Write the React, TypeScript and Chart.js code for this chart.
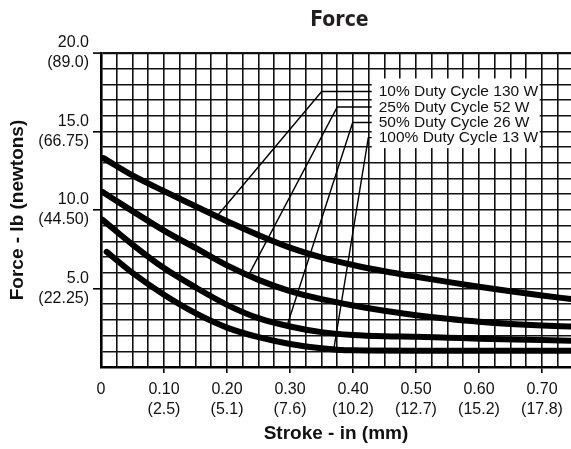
import React, { useEffect, useRef } from 'react';
import { Chart, registerables } from 'chart.js';

Chart.register(...registerables);

// ---- data (stroke in inches, force in lb) ----
const stroke10 = [0.004, 0.05, 0.1, 0.15, 0.2, 0.25, 0.3, 0.35, 0.4, 0.45, 0.5, 0.55, 0.6, 0.65, 0.7, 0.746];
const force10 = [13.3, 12.2, 11.2, 10.24, 9.28, 8.4, 7.6, 6.98, 6.5, 6.1, 5.75, 5.42, 5.11, 4.82, 4.55, 4.33];

const stroke25 = [0.002, 0.05, 0.1, 0.15, 0.2, 0.25, 0.3, 0.35, 0.4, 0.45, 0.5, 0.55, 0.6, 0.65, 0.7, 0.746];
const force25 = [11.16, 9.93, 8.69, 7.58, 6.47, 5.55, 4.83, 4.32, 3.92, 3.58, 3.3, 3.07, 2.88, 2.74, 2.64, 2.58];

const stroke50 = [0.002, 0.05, 0.1, 0.15, 0.2, 0.25, 0.3, 0.35, 0.4, 0.45, 0.5, 0.55, 0.6, 0.7, 0.746];
const force50 = [9.39, 7.8, 6.3, 5.07, 3.96, 3.11, 2.58, 2.22, 2.04, 1.96, 1.93, 1.87, 1.8, 1.72, 1.67];

const stroke100 = [0.009, 0.05, 0.1, 0.15, 0.2, 0.25, 0.3, 0.35, 0.375, 0.4, 0.5, 0.6, 0.746];
const force100 = [7.33, 5.99, 4.6, 3.43, 2.51, 1.9, 1.47, 1.19, 1.1, 1.06, 1.04, 1.04, 1.04];

// callout leader lines (data coordinates)
const leader10X = [0.184, 0.3503, 0.4297];
const leader10Y = [9.6, 17.55, 17.55];
const leader25X = [0.2349, 0.375, 0.4297];
const leader25Y = [5.9, 16.56, 16.56];
const leader50X = [0.2957, 0.3995, 0.4297];
const leader50Y = [2.68, 15.57, 15.57];
const leader100X = [0.3698, 0.4243, 0.4297];
const leader100Y = [1.2, 14.61, 14.61];

const seriesLabels = [
  '10% Duty Cycle 130 W',
  '25% Duty Cycle 52 W',
  '50% Duty Cycle 26 W',
  '100% Duty Cycle 13 W',
];

// axis ticks
const xMajorIn = ['0', '0.10', '0.20', '0.30', '0.40', '0.50', '0.60', '0.70'];
const xMajorMm = ['', '(2.5)', '(5.1)', '(7.6)', '(10.2)', '(12.7)', '(15.2)', '(17.8)'];
const yMajorValues = [5, 10, 15, 20];
const yMajorLb = ['5.0', '10.0', '15.0', '20.0'];
const yMajorN = ['(22.25)', '(44.50)', '(66.75)', '(89.0)'];

const X_MIN = 0;
const X_MAX = 0.746;
const X_MINOR_STEP = 0.025;
const X_MINOR_COUNT = 30; // 0 .. 0.725
const Y_MIN = 0;
const Y_MAX = 20;

const FONT = "'Liberation Sans', Arial, Helvetica, sans-serif";
const INK = '#111';

const toPts = (xs: number[], ys: number[]) => xs.map((x, i) => ({ x, y: ys[i] }));

const calloutPlugin = {
  id: 'callout',
  beforeDatasetsDraw(chart: any) {
    const { ctx, scales } = chart;
    const xs = scales.x;
    const ys = scales.y;
    const left = xs.getPixelForValue(leader10X[2]);
    const yTop = ys.getPixelForValue(leader10Y[2]) - 13;
    const yBot = ys.getPixelForValue(leader100Y[2]) + 10.5;
    ctx.save();
    ctx.fillStyle = '#fff';
    ctx.fillRect(left, yTop, 168, yBot - yTop);
    ctx.fillStyle = INK;
    ctx.font = `15.5px ${FONT}`;
    ctx.textAlign = 'left';
    ctx.textBaseline = 'alphabetic';
    const ysLead = [leader10Y[2], leader25Y[2], leader50Y[2], leader100Y[2]];
    seriesLabels.forEach((t, i) => {
      ctx.fillText(t, left + 7, ys.getPixelForValue(ysLead[i]) + 4.5);
    });
    ctx.restore();
  },
  afterDraw(chart: any) {
    const { ctx } = chart;
    ctx.save();
    ctx.fillStyle = '#231f20';
    ctx.font = "bold 21px 'DejaVu Sans Condensed', 'DejaVu Sans', sans-serif";
    ctx.textAlign = 'center';
    ctx.textBaseline = 'alphabetic';
    ctx.fillText('Force', 339.5, 26);
    ctx.restore();
  },
};

export default function App() {
  const ref = useRef<HTMLCanvasElement | null>(null);

  useEffect(() => {
    if (!ref.current) return;
    const curve = (xs: number[], ys: number[], label: string) => ({
      label,
      data: toPts(xs, ys),
      borderColor: '#000',
      borderWidth: 6,
      borderCapStyle: 'round' as const,
      borderJoinStyle: 'round' as const,
      pointRadius: 0,
      cubicInterpolationMode: 'monotone' as const,
      fill: false,
    });
    const leader = (xs: number[], ys: number[], label: string) => ({
      label,
      data: toPts(xs, ys),
      borderColor: '#000',
      borderWidth: 1.4,
      pointRadius: 0,
      tension: 0,
      fill: false,
    });

    const chart = new Chart(ref.current, {
      type: 'line',
      data: {
        datasets: [
          curve(stroke10, force10, seriesLabels[0]),
          curve(stroke25, force25, seriesLabels[1]),
          curve(stroke50, force50, seriesLabels[2]),
          curve(stroke100, force100, seriesLabels[3]),
          leader(leader10X, leader10Y, 'l10'),
          leader(leader25X, leader25Y, 'l25'),
          leader(leader50X, leader50Y, 'l50'),
          leader(leader100X, leader100Y, 'l100'),
        ],
      },
      options: {
        animation: false,
        responsive: true,
        maintainAspectRatio: false,
        parsing: false as any,
        layout: { padding: { top: 53, left: 0, right: 0, bottom: 0 } },
        plugins: {
          legend: { display: false },
          tooltip: { enabled: false },
          title: { display: false },
        },
        scales: {
          x: {
            type: 'linear',
            min: X_MIN,
            max: X_MAX,
            afterBuildTicks: (scale: any) => {
              const t = [];
              for (let i = 0; i < X_MINOR_COUNT; i++) t.push({ value: +(i * X_MINOR_STEP).toFixed(3) });
              scale.ticks = t;
            },
            afterFit: (scale: any) => {
              scale.height = 82;
            },
            ticks: {
              autoSkip: false,
              maxRotation: 0,
              minRotation: 0,
              padding: 7,
              color: INK,
              font: { family: FONT, size: 16, lineHeight: 1.25 },
              callback: (_v: any, i: number) => {
                if (i % 4 !== 0) return '';
                const k = i / 4;
                return xMajorMm[k] ? [xMajorIn[k], xMajorMm[k]] : xMajorIn[k];
              },
            },
            grid: {
              color: '#111',
              lineWidth: 1.6,
              tickLength: 6,
              tickWidth: 1.6,
              tickColor: (c: any) => (c.index % 4 === 0 && c.index > 0 ? '#000' : 'rgba(0,0,0,0)'),
            },
            border: { display: true, color: '#000', width: 2.6 },
            title: {
              display: true,
              text: 'Stroke - in (mm)',
              color: INK,
              font: { family: FONT, size: 19, weight: 'bold' },
              padding: { top: 0, bottom: 3.6 },
            },
          },
          y: {
            type: 'linear',
            min: Y_MIN,
            max: Y_MAX,
            afterBuildTicks: (scale: any) => {
              const t = [];
              for (let v = Y_MIN; v <= Y_MAX; v++) t.push({ value: v });
              scale.ticks = t;
            },
            afterFit: (scale: any) => {
              scale.width = 101;
            },
            ticks: {
              autoSkip: false,
              padding: 4,
              color: INK,
              font: { family: FONT, size: 16, lineHeight: 1.25 },
              callback: (v: any) => {
                const k = yMajorValues.indexOf(Number(v));
                return k >= 0 ? [yMajorLb[k], yMajorN[k]] : '';
              },
            },
            grid: {
              color: '#111',
              lineWidth: (c: any) => (c.tick && c.tick.value === Y_MAX ? 2.2 : 1.6),
              tickLength: 8,
              tickWidth: 1.6,
              tickColor: (c: any) =>
                c.tick && yMajorValues.indexOf(c.tick.value) >= 0 ? '#000' : 'rgba(0,0,0,0)',
            },
            border: { display: true, color: '#000', width: 2.6 },
            title: {
              display: true,
              text: 'Force - lb (newtons)',
              color: INK,
              font: { family: FONT, size: 19, weight: 'bold' },
              padding: { top: 6, bottom: 0 },
            },
          },
        },
      },
      plugins: [calloutPlugin],
    });
    return () => chart.destroy();
  }, []);

  return (
    <div style={{ position: 'fixed', left: 0, top: 0, width: 571, height: 449, background: '#fff' }}>
      <canvas ref={ref} />
    </div>
  );
}
